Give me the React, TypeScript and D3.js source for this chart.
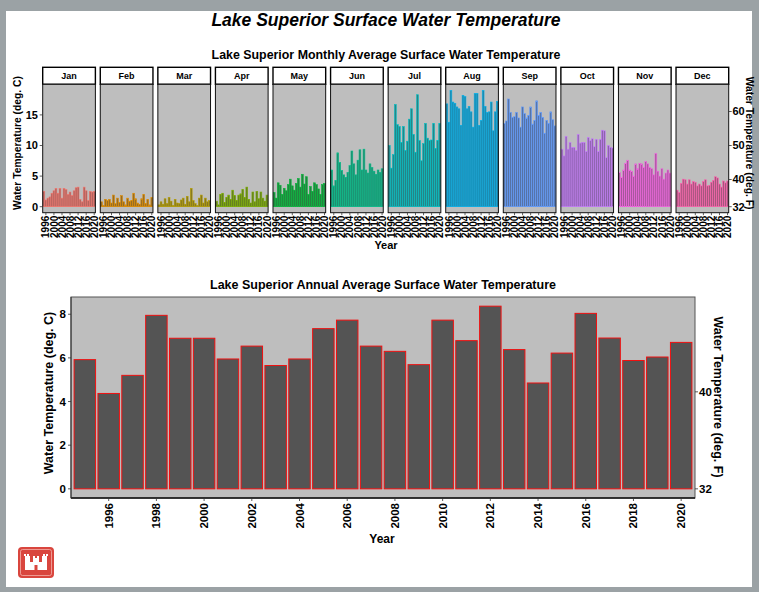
import React from "react";
import * as d3 from "d3";

const years = [1995, 1996, 1997, 1998, 1999, 2000, 2001, 2002, 2003, 2004, 2005, 2006, 2007,
  2008, 2009, 2010, 2011, 2012, 2013, 2014, 2015, 2016, 2017, 2018, 2019, 2020];
const months = ["Jan", "Feb", "Mar", "Apr", "May", "Jun", "Jul", "Aug", "Sep", "Oct", "Nov", "Dec"];
const monthColors = ["#F8766D", "#DE8C00", "#B79F00", "#7CAE00", "#00BA38", "#00C08B",
  "#00BFC4", "#00B4F0", "#619CFF", "#C77CFF", "#F564E3", "#FF64B0"];

// monthly averages, deg C, 1995..2020
const janTemp = [2.5, 1.1, 1.4, 1.6, 2.2, 2.6, 3.0, 2.2, 3.0, 1.4, 3.0, 2.8, 2.0, 2.4, 1.8, 2.6, 3.1, 3.2, 1.2, 0.8, 3.2, 2.6, 1.0, 2.5, 2.4, 2.5];
const febTemp = [0.8, 0.2, 1.2, 1.0, 1.2, 0.6, 1.9, 0.5, 1.4, 0.7, 1.8, 0.8, 0.3, 1.4, 0.9, 1.0, 2.2, 1.3, 0.6, 0.4, 1.3, 2.0, 0.5, 1.2, 0.3, 1.5];
const marTemp = [0.3, 0.8, 0.4, 1.3, 0.5, 1.5, 0.9, 0.2, 1.2, 0.6, 0.5, 1.1, 1.4, 0.4, 1.7, 0.8, 3.0, 1.0, 0.5, 0.2, 1.4, 1.9, 0.6, 1.4, 0.8, 1.0];
const aprTemp = [0.9, 0.3, 2.0, 2.2, 0.7, 1.5, 1.9, 1.2, 2.7, 1.8, 1.0, 1.9, 2.1, 2.8, 1.5, 3.2, 1.2, 0.6, 2.4, 0.8, 2.5, 1.3, 2.4, 1.4, 0.9, 1.9];
const mayTemp = [2.3, 1.4, 3.9, 3.5, 2.0, 3.0, 2.6, 3.6, 4.5, 3.4, 2.7, 3.8, 4.6, 3.2, 5.3, 3.7, 4.9, 2.0, 3.3, 2.5, 3.9, 3.6, 2.9, 2.0, 3.6, 3.8];
const junTemp = [6.0, 3.4, 4.3, 8.8, 7.2, 5.9, 5.2, 4.8, 5.6, 6.7, 9.1, 7.0, 5.2, 7.6, 9.3, 6.0, 9.4, 6.0, 5.5, 7.0, 6.4, 5.8, 5.3, 6.0, 5.6, 6.2];
const julTemp = [10.0, 6.3, 8.5, 16.7, 13.4, 13.1, 10.5, 13.1, 9.2, 10.7, 14.3, 16.0, 11.8, 8.9, 18.3, 10.8, 7.5, 10.3, 13.6, 11.2, 10.8, 10.9, 13.6, 9.5, 10.8, 13.6];
const augTemp = [16.8, 13.8, 19.0, 17.1, 16.9, 16.3, 16.0, 13.3, 18.2, 18.0, 16.0, 16.4, 15.5, 13.0, 18.5, 18.5, 13.3, 14.1, 19.0, 16.4, 15.4, 15.5, 17.1, 12.4, 15.5, 17.2];
const sepTemp = [13.6, 14.0, 17.6, 15.4, 14.6, 14.7, 15.4, 14.5, 13.0, 16.3, 15.2, 14.5, 14.9, 16.3, 13.5, 14.1, 17.3, 14.9, 15.4, 14.6, 12.0, 14.1, 13.6, 15.5, 14.2, 13.2];
const octTemp = [9.4, 8.3, 11.5, 9.4, 10.5, 9.7, 9.7, 9.2, 11.8, 10.4, 10.5, 10.5, 9.0, 11.3, 10.8, 11.1, 9.8, 11.0, 9.0, 11.0, 12.5, 12.4, 8.0, 10.0, 9.7, 9.6];
const novTemp = [5.6, 4.8, 6.0, 7.1, 7.6, 6.0, 5.8, 5.0, 7.0, 6.2, 7.1, 7.0, 6.4, 7.4, 7.0, 6.4, 6.2, 5.2, 8.7, 5.8, 5.0, 6.2, 4.5, 5.5, 6.0, 5.5];
const decTemp = [2.7, 2.3, 3.8, 4.5, 4.4, 3.7, 4.4, 3.7, 4.1, 4.0, 3.4, 3.7, 3.4, 4.1, 4.4, 3.4, 3.5, 4.0, 4.3, 4.9, 4.7, 3.7, 3.2, 4.2, 3.9, 4.2];
const monthlyTemps = [janTemp, febTemp, marTemp, aprTemp, mayTemp, junTemp, julTemp, augTemp, sepTemp, octTemp, novTemp, decTemp];

// annual averages, deg C
const annualTemp = [5.92, 4.37, 5.2, 7.95, 6.9, 6.9, 5.95, 6.54, 5.65, 5.95, 7.34, 7.73, 6.54,
  6.3, 5.69, 7.73, 6.79, 8.37, 6.38, 4.85, 6.22, 8.04, 6.91, 5.88, 6.04, 6.71];

const monthlyTicksC = [0, 5, 10, 15];
const monthlyTicksF = [32, 40, 50, 60];
const monthlyYearTicks = [1996, 2000, 2004, 2008, 2012, 2016, 2020];
const annualTicksC = [0, 2, 4, 6, 8];
const annualTicksF = [32, 40];
const annualYearTicks = [1996, 1998, 2000, 2002, 2004, 2006, 2008, 2010, 2012, 2014, 2016, 2018, 2020];

const font = "'Liberation Sans', Arial, sans-serif";
const fToC = (f: number) => ((f - 32) * 5) / 9;

function Logo() {
  return (
    <g transform="translate(18,547)">
      <rect width={36} height={31} rx={4} fill="#d9463e" />
      <rect x={2.5} y={2.5} width={31} height={26} rx={2} fill="none" stroke="#f4b0aa" strokeWidth={0.8} />
      <g fill="#fff">
        <rect x={7} y={9} width={5} height={14} />
        <rect x={24} y={9} width={5} height={14} />
        <rect x={15} y={11} width={6} height={12} />
        <rect x={12} y={15} width={12} height={8} />
        <rect x={6} y={7} width={2} height={2} />
        <rect x={9} y={7} width={2} height={2} />
        <rect x={25} y={7} width={2} height={2} />
        <rect x={28} y={7} width={2} height={2} />
        <rect x={15} y={9} width={2} height={2} />
        <rect x={19} y={9} width={2} height={2} />
      </g>
      <rect x={16.5} y={18} width={3} height={5} fill="#d9463e" />
    </g>
  );
}

export default function App() {
  // ---- monthly facets ----
  const panelX = d3.scaleBand<string>().domain(months).range([42.7, 728.7]).paddingInner(0.085);
  const mTop = 84.3;
  const mBot = 212.7;
  const yM = d3.scaleLinear().domain([-0.98, 20.0]).range([mBot, mTop]);

  // ---- annual chart ----
  const aLeft = 71;
  const aRight = 695;
  const aTop = 297;
  const aBot = 498;
  const xA = d3.scaleBand<number>().domain(years).range([aLeft, aRight]).paddingInner(0.1).paddingOuter(0.13);
  const yA = d3.scaleLinear().domain([-0.42, 8.79]).range([aBot, aTop]);

  const bold = { fontFamily: font, fontWeight: 700 } as const;

  return (
    <svg width={759} height={592} style={{ position: "absolute", left: 0, top: 0 }}>
      <rect width={759} height={592} fill="#9ba2a5" />
      <rect x={6} y={11} width={746} height={576} fill="#fff" />

      <text x={386} y={26} textAnchor="middle" fontSize={17.5} fontStyle="italic" {...bold}>
        Lake Superior Surface Water Temperature
      </text>
      <text x={386} y={59} textAnchor="middle" fontSize={12.4} {...bold}>
        Lake Superior Monthly Average Surface Water Temperature
      </text>

      {months.map((m, i) => {
        const x0 = panelX(m)!;
        const w = panelX.bandwidth();
        const xb = d3.scaleBand<number>().domain(years).range([x0, x0 + w]).paddingInner(0.1).paddingOuter(0.13);
        const col = monthColors[i];
        const fill = d3.interpolateRgb(col, "#4a4a4a")(0.5);
        return (
          <g key={m}>
            <rect x={x0} y={67.3} width={w} height={17} fill="#fff" stroke="#000" strokeWidth={1.4} />
            <text x={x0 + w / 2} y={79} textAnchor="middle" fontSize={9} {...bold}>{m}</text>
            <rect x={x0} y={mTop} width={w} height={mBot - mTop} fill="#bebebe" />
            {monthlyTemps[i].map((v, j) => (
              <rect key={j} x={xb(years[j])!} y={yM(v)} width={xb.bandwidth()} height={yM(0) - yM(v)}
                fill={fill} stroke={col} strokeWidth={0.6} />
            ))}
            <rect x={x0} y={mTop} width={w} height={mBot - mTop} fill="none" stroke="#111" strokeWidth={1} />
            {monthlyYearTicks.map((yr) => {
              const cx = xb(yr)! + xb.bandwidth() / 2;
              return (
                <g key={yr}>
                  <line x1={cx} x2={cx} y1={mBot} y2={mBot + 2.5} stroke="#333" strokeWidth={0.8} />
                  <text transform={`translate(${cx + 3.6},${mBot + 3}) rotate(-90)`} textAnchor="end"
                    fontSize={10} {...bold}>{yr}</text>
                </g>
              );
            })}
          </g>
        );
      })}

      {monthlyTicksC.map((t) => (
        <g key={t}>
          <line x1={39.7} x2={42.7} y1={yM(t)} y2={yM(t)} stroke="#333" strokeWidth={0.8} />
          <text x={38} y={yM(t) + 3.8} textAnchor="end" fontSize={11} {...bold}>{t}</text>
        </g>
      ))}
      {monthlyTicksF.map((t) => (
        <g key={t}>
          <line x1={728.7} x2={731.7} y1={yM(fToC(t))} y2={yM(fToC(t))} stroke="#333" strokeWidth={0.8} />
          <text x={732.5} y={yM(fToC(t)) + 3.8} fontSize={11} {...bold}>{t}</text>
        </g>
      ))}
      <text transform="translate(21,143) rotate(-90)" textAnchor="middle" fontSize={10.3} {...bold}>
        Water Temperature (deg. C)
      </text>
      <text x={386} y={249} textAnchor="middle" fontSize={11} {...bold}>Year</text>

      {/* annual chart */}
      <text x={383} y={289} textAnchor="middle" fontSize={12.5} {...bold}>
        Lake Superior Annual Average Surface Water Temperature
      </text>
      <rect x={aLeft} y={aTop} width={aRight - aLeft} height={aBot - aTop} fill="#bebebe" stroke="#555" strokeWidth={1} />
      {annualTemp.map((v, j) => (
        <rect key={j} x={xA(years[j])!} y={yA(v)} width={xA.bandwidth()} height={yA(0) - yA(v)}
          fill="#545454" stroke="#f01010" strokeWidth={1} />
      ))}
      <line x1={aLeft} x2={aRight} y1={aBot} y2={aBot} stroke="#111" strokeWidth={1.5} />
      <line x1={aLeft} x2={aLeft} y1={aTop} y2={aBot} stroke="#333" strokeWidth={1} />
      {annualYearTicks.map((yr) => {
        const cx = xA(yr)! + xA.bandwidth() / 2;
        return (
          <g key={yr}>
            <line x1={cx} x2={cx} y1={aBot} y2={aBot + 3} stroke="#333" strokeWidth={0.8} />
            <text transform={`translate(${cx + 4},${aBot + 5}) rotate(-90)`} textAnchor="end"
              fontSize={11.5} {...bold}>{yr}</text>
          </g>
        );
      })}
      {annualTicksC.map((t) => (
        <g key={t}>
          <line x1={aLeft - 3} x2={aLeft} y1={yA(t)} y2={yA(t)} stroke="#333" strokeWidth={0.8} />
          <text x={aLeft - 5} y={yA(t) + 4} textAnchor="end" fontSize={11.5} {...bold}>{t}</text>
        </g>
      ))}
      {annualTicksF.map((t) => (
        <g key={t}>
          <line x1={aRight} x2={aRight + 3} y1={yA(fToC(t))} y2={yA(fToC(t))} stroke="#333" strokeWidth={0.8} />
          <text x={aRight + 4} y={yA(fToC(t)) + 4} fontSize={11.5} {...bold}>{t}</text>
        </g>
      ))}
      <text transform="translate(53,393) rotate(-90)" textAnchor="middle" fontSize={12.5} {...bold}>
        Water Temperature (deg. C)
      </text>
      <text transform="translate(714,397) rotate(90)" textAnchor="middle" fontSize={12.5} {...bold}>
        Water Temperature (deg. F)
      </text>
      <text x={382} y={543} textAnchor="middle" fontSize={12} {...bold}>Year</text>

      <text transform="translate(746,143) rotate(90)" textAnchor="middle" fontSize={10.3} {...bold}>
        Water Temperature (deg. F)
      </text>

      <Logo />
    </svg>
  );
}
